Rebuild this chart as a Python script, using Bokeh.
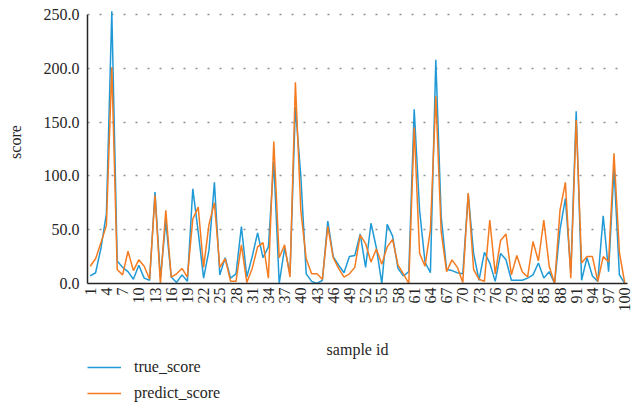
import math
from bokeh.plotting import figure
from bokeh.layouts import column
from bokeh.models import (Range1d, FixedTicker, NumeralTickFormatter, Legend, LegendItem,
                          ColumnDataSource)
from bokeh.embed import file_html
from bokeh.resources import INLINE

sample_id = list(range(1, 101))
true_score = [7, 10, 33, 65, 253, 21, 15, 11, 4, 17,
              5, 3, 85, 5, 58, 6, 1, 8, 2, 88,
              48, 5, 31, 94, 8, 24, 5, 9, 53, 6,
              25, 47, 24, 34, 113, 0, 33, 9, 164, 100,
              9, 2, 0, 3, 58, 25, 17, 10, 25, 26,
              46, 15, 56, 33, 0, 55, 44, 14, 7, 11,
              162, 68, 20, 10, 208, 62, 13, 12, 10, 9,
              83, 28, 3, 29, 19, 2, 28, 22, 3, 3,
              3, 5, 8, 19, 5, 11, 0, 50, 79, 10,
              160, 3, 24, 7, 2, 63, 11, 107, 8, 0]
predict_score = [16, 23, 38, 54, 201, 13, 8, 30, 12, 22,
                 16, 4, 82, 0, 68, 6, 9, 14, 6, 60,
                 71, 15, 55, 75, 15, 23, 2, 2, 36, 1,
                 14, 34, 38, 5, 132, 24, 36, 6, 187, 68,
                 23, 9, 9, 4, 53, 24, 14, 6, 9, 15,
                 45, 37, 20, 32, 18, 34, 41, 17, 9, 0,
                 145, 28, 16, 50, 174, 48, 11, 22, 15, 1,
                 84, 13, 4, 2, 59, 9, 40, 46, 8, 26,
                 11, 6, 39, 21, 59, 16, 0, 68, 94, 5,
                 152, 19, 25, 25, 2, 25, 20, 121, 29, 0]
series_names = ["true_score", "predict_score"]
series_colors = ["#1f9ad6", "#f47b20"]
x_ticks = list(range(1, 101, 3))
y_ticks = [0, 50, 100, 150, 200, 250]

FONT = "Liberation Serif"
FS = "16px"
TXT = "#262626"

src = ColumnDataSource(dict(x=sample_id, t=true_score, p=predict_score))

p = figure(width=633, height=371, output_backend="svg", toolbar_location=None,
           x_range=Range1d(0.5, 100.5), y_range=Range1d(0, 263),
           min_border_left=87, min_border_right=6, min_border_top=0, min_border_bottom=88)
p.outline_line_color = None
p.border_fill_alpha = 0

p.line("x", "t", source=src, line_color=series_colors[0], line_width=1.5)
p.line("x", "p", source=src, line_color=series_colors[1], line_width=1.5)

for ax in (p.xaxis[0], p.yaxis[0]):
    ax.axis_line_color = TXT
    ax.axis_line_width = 1.5
    ax.major_tick_line_color = None
    ax.minor_tick_line_color = None
    ax.major_tick_out = 0
    ax.major_tick_in = 0
    ax.minor_tick_out = 0
    ax.minor_tick_in = 0
    ax.major_label_text_font = FONT
    ax.major_label_text_font_size = FS
    ax.major_label_text_color = TXT
    ax.axis_label_text_font = FONT
    ax.axis_label_text_font_size = FS
    ax.axis_label_text_font_style = "normal"
    ax.axis_label_text_color = TXT

p.yaxis.ticker = FixedTicker(ticks=y_ticks)
p.yaxis.formatter = NumeralTickFormatter(format="0.0")
p.yaxis.bounds = (0, 250)
p.yaxis.major_label_standoff = 8
p.yaxis.axis_label = "score"
p.yaxis.axis_label_standoff = 17

p.xaxis.ticker = FixedTicker(ticks=x_ticks)
p.xaxis.major_label_orientation = math.pi / 2
p.xaxis.major_label_standoff = 4
p.xaxis.axis_label = "sample id"
p.xaxis.axis_label_standoff = 26

p.xgrid.grid_line_color = None
p.ygrid.ticker = FixedTicker(ticks=[50, 100, 150, 200, 250])
p.ygrid.grid_line_color = "#8f8f8f"
p.ygrid.grid_line_dash = "2 10"
p.ygrid.grid_line_width = 1.3

# legend strip below the chart
lg = figure(width=633, height=48, output_backend="svg", toolbar_location=None,
            x_range=Range1d(0, 1), y_range=Range1d(0, 1),
            min_border_left=87, min_border_right=6, min_border_top=0, min_border_bottom=0)
lg.outline_line_color = None
lg.background_fill_alpha = 0
lg.border_fill_alpha = 0
lg.axis.visible = False
lg.grid.visible = False
lg.margin = (-13, 0, 0, 0)
items = []
for name, col in zip(series_names, series_colors):
    r = lg.line(x=[float("nan")], y=[float("nan")], line_color=col, line_width=1.5)
    items.append(LegendItem(label=name, renderers=[r]))
legend = Legend(items=items, location="top_left", orientation="vertical",
                padding=0, margin=0, spacing=8,
                glyph_width=34, glyph_height=14, label_height=14,
                label_standoff=13, border_line_color=None,
                background_fill_alpha=0,
                label_text_font=FONT, label_text_font_size=FS,
                label_text_color=TXT)
lg.add_layout(legend, "center")

layout = column(p, lg, spacing=0)
open("out.html", "w").write(file_html(layout, INLINE))
